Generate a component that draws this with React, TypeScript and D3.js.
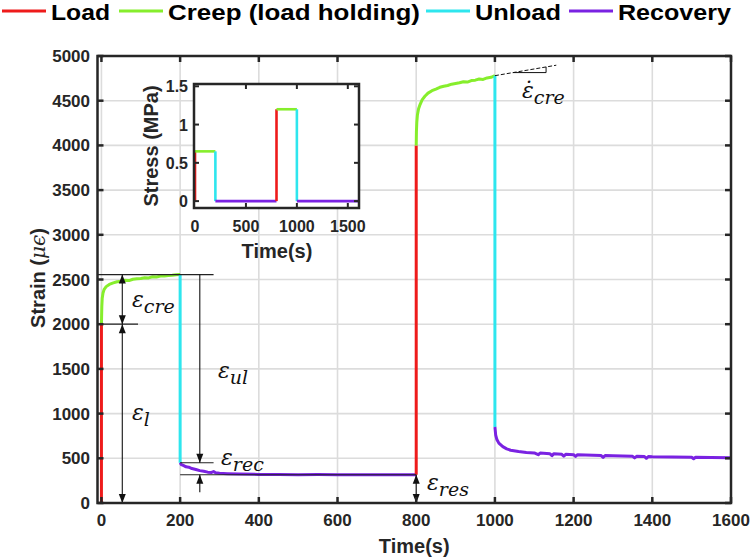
import React from 'react';
import * as d3 from 'd3';

type Pt = [number, number];

// strain segments, [time (s), strain (με)]
const load1: Pt[] = [[0, 0], [0, 2000]];
const creep1: Pt[] = [[0, 2000], [1, 2200], [2, 2290], [4, 2350], [7, 2390], [12, 2420], [20, 2445], [30, 2462],
  [40, 2475], [50, 2480], [60, 2492], [70, 2488], [80, 2503], [90, 2508], [100, 2512], [110, 2520], [120, 2518],
  [130, 2530], [140, 2528], [150, 2538], [160, 2540], [170, 2545], [180, 2548], [190, 2552], [200, 2555]];
const unload1: Pt[] = [[200, 2555], [200, 450]];
const recovery1: Pt[] = [[200, 450], [203, 430], [208, 420], [215, 405], [222, 400], [230, 385], [240, 375],
  [250, 362], [260, 355], [270, 345], [280, 342], [285, 352], [290, 338], [300, 332], [320, 328], [350, 324],
  [400, 320], [450, 318], [500, 317], [550, 318], [600, 316], [650, 316], [700, 315], [750, 316], [800, 316]];
const load2: Pt[] = [[800, 316], [800, 4000]];
const creep2: Pt[] = [[800, 4000], [800.5, 4150], [801.5, 4260], [803, 4340], [806, 4410], [810, 4460], [815, 4510],
  [822, 4550], [830, 4585], [840, 4612], [850, 4630], [860, 4650], [870, 4662], [880, 4670], [890, 4685],
  [900, 4692], [910, 4700], [920, 4712], [930, 4708], [940, 4725], [950, 4730], [960, 4742], [970, 4738],
  [980, 4755], [990, 4762], [1000, 4780]];
const unload2: Pt[] = [[1000, 4780], [1000, 850]];
const recovery2: Pt[] = [[1000, 850], [1002, 760], [1005, 710], [1010, 670], [1020, 630], [1030, 605], [1040, 590],
  [1060, 575], [1080, 565], [1100, 560], [1110, 540], [1115, 558], [1140, 550], [1145, 530], [1150, 552],
  [1170, 545], [1175, 525], [1180, 545], [1200, 540], [1205, 520], [1210, 540], [1250, 533], [1270, 530],
  [1275, 510], [1280, 530], [1300, 528], [1350, 522], [1355, 505], [1360, 522], [1380, 520], [1385, 500],
  [1390, 520], [1400, 518], [1450, 514], [1500, 512], [1505, 495], [1510, 512], [1550, 508], [1600, 505]];

// stress segments for the inset, [time (s), stress (MPa)]
const stressLoad1: Pt[] = [[0, 0], [0, 0.65]];
const stressCreep1: Pt[] = [[0, 0.65], [200, 0.65]];
const stressUnload1: Pt[] = [[200, 0.65], [200, 0]];
const stressRec1: Pt[] = [[200, 0], [800, 0]];
const stressLoad2: Pt[] = [[800, 0], [800, 1.2]];
const stressCreep2: Pt[] = [[800, 1.2], [1000, 1.2]];
const stressUnload2: Pt[] = [[1000, 1.2], [1000, 0]];
const stressRec2: Pt[] = [[1000, 0], [1600, 0]];

const xTicks = [0, 200, 400, 600, 800, 1000, 1200, 1400, 1600];
const yTicks = [0, 500, 1000, 1500, 2000, 2500, 3000, 3500, 4000, 4500, 5000];
const insetXTicks = [0, 500, 1000, 1500];
const insetYTicks = [0, 0.5, 1, 1.5];

const RED = '#ee1b1b';
const GREEN = '#86ee2c';
const CYAN = '#2ee6ee';
const PURPLE = '#7a22e2';

const legendItems = [
  { label: 'Load', color: RED, x: 2, w: 59 },
  { label: 'Creep (load holding)', color: GREEN, x: 119, w: 252 },
  { label: 'Unload', color: CYAN, x: 426, w: 86 },
  { label: 'Recovery', color: PURPLE, x: 569, w: 113 },
];

const AX = '#262626';
const GRID = '#dcdcdc';
const MATH = '"DejaVu Serif", serif';
const SANS = '"Liberation Sans", Arial, sans-serif';

const App = () => {
  const x = d3.scaleLinear().domain([-10, 1600]).range([97.5, 731]);
  const y = d3.scaleLinear().domain([0, 5000]).range([503, 56]);
  const line = d3.line<Pt>().x(d => x(d[0])).y(d => y(d[1]));

  const ix = d3.scaleLinear().domain([0, 1600]).range([195, 358]);
  const iy = d3.scaleLinear().domain([-0.09, 1.53]).range([208, 84]);
  const iline = d3.line<Pt>().x(d => ix(d[0])).y(d => iy(d[1]));

  const strainSegs: [Pt[], string][] = [
    [load1, RED], [creep1, GREEN], [unload1, CYAN], [recovery1, PURPLE],
    [load2, RED], [creep2, GREEN], [unload2, CYAN], [recovery2, PURPLE],
  ];
  const stressSegs: [Pt[], string][] = [
    [stressLoad1, RED], [stressCreep1, GREEN], [stressUnload1, CYAN], [stressRec1, PURPLE],
    [stressLoad2, RED], [stressCreep2, GREEN], [stressUnload2, CYAN], [stressRec2, PURPLE],
  ];

  const [x0, x1] = x.range();
  const [y0, y1] = y.range();

  // annotation helpers
  const hLine = (t0: number, t1: number, s: number) => (
    <line x1={x(t0)} x2={x(t1)} y1={y(s)} y2={y(s)} stroke="#222" strokeWidth={1.2} />
  );
  const arrow = (t: number, sFrom: number, sTo: number, both: boolean) => {
    const xa = x(t), ya = y(sFrom), yb = y(sTo);
    const head = (yy: number, dir: number) =>
      <path d={`M${xa},${yy} l-3.5,${-dir * 9} l7,0 z`} fill="#111" />;
    const dir = yb > ya ? 1 : -1;
    return (
      <g>
        <line x1={xa} x2={xa} y1={ya} y2={yb} stroke="#111" strokeWidth={1.1} />
        {head(yb, dir)}
        {both && head(ya, -dir)}
      </g>
    );
  };
  const eps = (px: number, py: number, sub: string, dot = false) => (
    <text x={px} y={py} fontFamily={MATH} fontStyle="italic" fontSize={22} fill="#111">
      {dot ? '\u03b5\u0307' : '\u03b5'}
      <tspan fontSize={19} dy={6}>{sub}</tspan>
    </text>
  );

  // creep-rate tangent
  const tanA: Pt = [1000, 4780];
  const tanB: Pt = [1156, 4897];
  const slope = (tanB[1] - tanA[1]) / (tanB[0] - tanA[0]);
  const tAt = (t: number) => tanA[1] + slope * (t - tanA[0]);

  return (
    <svg width={750} height={560} style={{ position: 'absolute', left: 0, top: 0, background: '#fff' }}
      fontFamily={SANS}>
      {/* legend */}
      {legendItems.map(it => (
        <g key={it.label}>
          <line x1={it.x} x2={it.x + 44} y1={11} y2={11} stroke={it.color} strokeWidth={3} />
          <text x={it.x + 49} y={19.5} fontSize={22} fontWeight="bold" textLength={it.w}
            lengthAdjust="spacingAndGlyphs">{it.label}</text>
        </g>
      ))}

      {/* grid */}
      {xTicks.map(t => <line key={'gx' + t} x1={x(t)} x2={x(t)} y1={y0} y2={y1} stroke={GRID} strokeWidth={1.6} />)}
      {yTicks.map(t => <line key={'gy' + t} x1={x0} x2={x1} y1={y(t)} y2={y(t)} stroke={GRID} strokeWidth={1.6} />)}

      {/* data */}
      {strainSegs.map(([d, c], i) => (
        <path key={'s' + i} d={line(d) || ''} fill="none" stroke={c} strokeWidth={3} strokeLinejoin="round" />
      ))}

      {/* annotations */}
      {hLine(-10, 285, 2555)}
      {hLine(-10, 93, 2000)}
      {hLine(200, 285, 450)}
      {hLine(200, 800, 316)}
      {arrow(53, 2555, 2000, true)}
      {arrow(53, 2000, 0, true)}
      {arrow(250, 2555, 450, false)}
      {arrow(250, 120, 316, false)}
      {arrow(800, 0, 316, true)}
      <line x1={x(tanA[0])} y1={y(tanA[1])} x2={x(tanB[0])} y2={y(tanB[1])} stroke="#111" strokeWidth={1}
        strokeDasharray="4,2" />
      <path d={`M${x(1046)},${y(tAt(1046))} H${x(1130)} V${y(tAt(1130))}`} fill="none" stroke="#111" strokeWidth={1} />
      {eps(132, 307, 'cre')}
      {eps(132, 420, 'l')}
      {eps(218, 378, 'ul')}
      {eps(221, 465, 'rec')}
      {eps(427, 490, 'res')}
      {eps(522, 98, 'cre', true)}

      {/* frame and ticks */}
      <rect x={x0} y={y1} width={x1 - x0} height={y0 - y1} fill="none" stroke={AX} strokeWidth={2.5} />
      {xTicks.map(t => (
        <g key={'tx' + t}>
          <line x1={x(t)} x2={x(t)} y1={y0} y2={y0 - 6} stroke={AX} strokeWidth={2.5} />
          <line x1={x(t)} x2={x(t)} y1={y1} y2={y1 + 6} stroke={AX} strokeWidth={2.5} />
          <text x={x(t)} y={526} textAnchor="middle" fontSize={17} fontWeight="bold" fill="#262626">{t}</text>
        </g>
      ))}
      {yTicks.map(t => (
        <g key={'ty' + t}>
          <line x1={x0} x2={x0 + 6} y1={y(t)} y2={y(t)} stroke={AX} strokeWidth={2.5} />
          <line x1={x1} x2={x1 - 6} y1={y(t)} y2={y(t)} stroke={AX} strokeWidth={2.5} />
          <text x={90} y={y(t) + 6} textAnchor="end" fontSize={17} fontWeight="bold" fill="#262626">{t}</text>
        </g>
      ))}
      <text x={(x0 + x1) / 2} y={553} textAnchor="middle" fontSize={20} fontWeight="bold" fill="#262626">Time(s)</text>
      <text transform="translate(45,278) rotate(-90)" textAnchor="middle" fontSize={20} fontWeight="bold" fill="#262626">
        Strain (<tspan fontFamily={MATH} fontStyle="italic" fontWeight="normal">{'\u03bc\u03f5'}</tspan>)
      </text>

      {/* inset */}
      <rect x={ix.range()[0] - 1} y={84} width={ix.range()[1] - ix.range()[0] + 2} height={124} fill="#fff" />
      {stressSegs.map(([d, c], i) => (
        <path key={'i' + i} d={iline(d) || ''} fill="none" stroke={c} strokeWidth={2.6} />
      ))}
      <rect x={194} y={84} width={165} height={124} fill="none" stroke={AX} strokeWidth={2.5} />
      {insetXTicks.map(t => (
        <g key={'ix' + t}>
          {t > 0 && <line x1={ix(t)} x2={ix(t)} y1={208} y2={203} stroke={AX} strokeWidth={2} />}
          {t > 0 && <line x1={ix(t)} x2={ix(t)} y1={84} y2={89} stroke={AX} strokeWidth={2} />}
          <text x={ix(t)} y={232} textAnchor="middle" fontSize={16} fontWeight="bold" fill="#262626">{t}</text>
        </g>
      ))}
      {insetYTicks.map(t => (
        <g key={'iy' + t}>
          <line x1={194} x2={199} y1={iy(t)} y2={iy(t)} stroke={AX} strokeWidth={2} />
          <line x1={359} x2={354} y1={iy(t)} y2={iy(t)} stroke={AX} strokeWidth={2} />
          <text x={188} y={iy(t) + 6} textAnchor="end" fontSize={16} fontWeight="bold" fill="#262626">{t}</text>
        </g>
      ))}
      <text x={277} y={258} textAnchor="middle" fontSize={20} fontWeight="bold" fill="#262626">Time(s)</text>
      <text transform="translate(158,146) rotate(-90)" textAnchor="middle" fontSize={20} fontWeight="bold" fill="#262626">
        Stress (MPa)
      </text>
    </svg>
  );
};

export default App;
